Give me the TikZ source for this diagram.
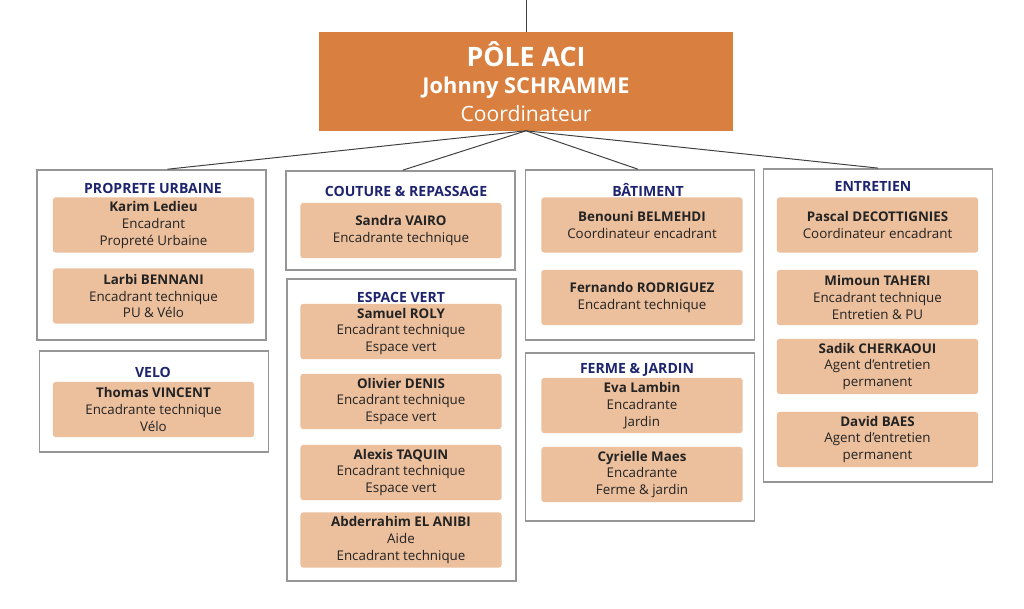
\documentclass[tikz,border=0pt]{standalone}
\usepackage{fontspec}
\setmainfont{Open Sans}
\usepackage{xcolor}
\usetikzlibrary{positioning}

\definecolor{aciorange}{RGB}{217,128,64}
\definecolor{acitan}{RGB}{236,191,157}
\definecolor{acinavy}{RGB}{30,36,110}
\definecolor{acigray}{RGB}{150,150,150}
\definecolor{acitext}{RGB}{35,35,35}

\begin{document}
\begin{tikzpicture}[
    x=0.025cm, y=-0.025cm,
    pole/.style={rectangle, fill=aciorange, text=white, align=center, minimum width=10.35cm, minimum height=2.45cm, inner sep=0pt, font=\fontsize{15}{19.8}\selectfont},
    group/.style={rectangle, draw=acigray, line width=1.1pt, fill=white, inner sep=0pt, minimum width=5.73cm},
    title/.style={text=acinavy, font=\fontsize{10}{11}\selectfont\bfseries, inner sep=0pt},
    person/.style={rectangle, fill=acitan, rounded corners=2pt, align=center, text=acitext, minimum width=5.03cm, minimum height=1.38cm, inner sep=0pt, font=\fontsize{9.5}{12}\selectfont},
    link/.style={draw=black!75, line width=0.7pt}
]
    \useasboundingbox (0,0) rectangle (1024,608);

    % Head
    \node[pole] (pole) at (526,81.5) {{\fontsize{19}{19.8}\selectfont\bfseries PÔLE ACI}\\
        {\fontsize{15.5}{19.8}\selectfont\bfseries Johnny SCHRAMME}\\
        Coordinateur};
    \coordinate (top) at (526,0);

    % Groups
    \node[group, minimum height=4.25cm] (pu) at (151.5,255) {};
    \node[group, minimum height=2.53cm] (velo) at (154,401.5) {};
    \node[group, minimum height=2.48cm] (couture) at (400.5,220.5) {};
    \node[group, minimum height=7.55cm] (espace) at (401.5,430) {};
    \node[group, minimum height=4.25cm] (batiment) at (640,255) {};
    \node[group, minimum height=4.2cm] (ferme) at (640,437) {};
    \node[group, minimum height=7.83cm] (entretien) at (878,325.5) {};

    % Titles
    \node[title] (tpu) at (153,188) {PROPRETE URBAINE};
    \node[title] (tvelo) at (153,372) {VELO};
    \node[title] (tcouture) at (406,191) {COUTURE \& REPASSAGE};
    \node[title] (tespace) at (401,297) {ESPACE VERT};
    \node[title] (tbatiment) at (648,190) {BÂTIMENT};
    \node[title] (tferme) at (637,370) {FERME \& JARDIN};
    \node[title] (tentretien) at (873,186) {ENTRETIEN};

    % Persons
    \node[person] (karim) at (153.5,225) {\textbf{Karim Ledieu}\\Encadrant\\Propreté Urbaine};
    \node[person] (larbi) at (153.5,296) {\textbf{Larbi BENNANI}\\Encadrant technique\\PU \& Vélo};
    \node[person] (thomas) at (153.5,409.5) {\textbf{Thomas VINCENT}\\Encadrante technique\\Vélo};

    \node[person] (sandra) at (401,230.5) {\textbf{Sandra VAIRO}\\Encadrante technique};
    \node[person] (samuel) at (401,331.5) {\textbf{Samuel ROLY}\\Encadrant technique\\Espace vert};
    \node[person] (olivier) at (401,401.5) {\textbf{Olivier DENIS}\\Encadrant technique\\Espace vert};
    \node[person] (alexis) at (401,472.5) {\textbf{Alexis TAQUIN}\\Encadrant technique\\Espace vert};
    \node[person] (abder) at (401,540) {\textbf{Abderrahim EL ANIBI}\\Aide\\Encadrant technique};

    \node[person] (benouni) at (642,225) {\textbf{Benouni BELMEHDI}\\Coordinateur encadrant};
    \node[person] (fernando) at (642,297.5) {\textbf{Fernando RODRIGUEZ}\\Encadrant technique};
    \node[person] (eva) at (642,405.5) {\textbf{Eva Lambin}\\Encadrante\\Jardin};
    \node[person] (cyrielle) at (642,474.5) {\textbf{Cyrielle Maes}\\Encadrante\\Ferme \& jardin};

    \node[person] (pascal) at (877.5,225) {\textbf{Pascal DECOTTIGNIES}\\Coordinateur encadrant};
    \node[person] (mimoun) at (877.5,297.5) {\textbf{Mimoun TAHERI}\\Encadrant technique\\Entretien \& PU};
    \node[person] (sadik) at (877.5,366.5) {\textbf{Sadik CHERKAOUI}\\Agent d’entretien\\permanent};
    \node[person] (david) at (877.5,439.5) {\textbf{David BAES}\\Agent d’entretien\\permanent};

    % Connections
    \draw[link] (top) -- (pole);
    \draw[link] (pole.south) -- ([xshift=0.4cm]pu.north);
    \draw[link] (pole.south) -- ([xshift=0.06cm]couture.north);
    \draw[link] (pole.south) -- ([xshift=-0.05cm]batiment.north);
    \draw[link] (pole.south) -- (entretien.north);
\end{tikzpicture}
\end{document}
